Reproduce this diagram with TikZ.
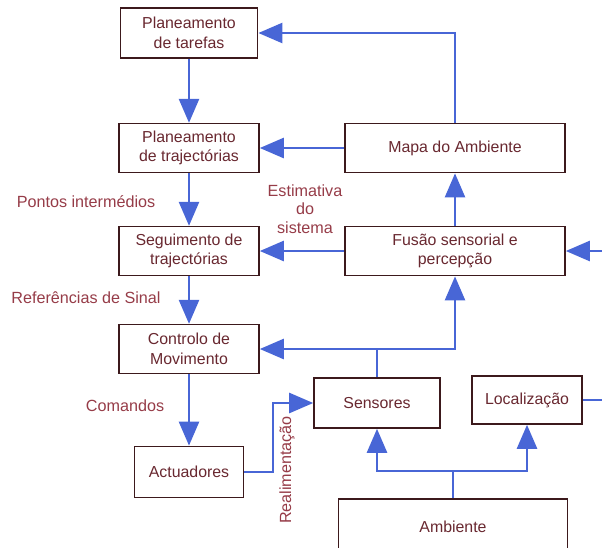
\documentclass[tikz,border=0pt]{standalone}
\usepackage{fontspec}
\setmainfont{Liberation Sans}
\usetikzlibrary{arrows.meta}
\definecolor{boxc}{RGB}{60,25,28}
\definecolor{txtc}{RGB}{105,40,48}
\definecolor{labc}{RGB}{150,60,72}
\definecolor{flowc}{RGB}{72,102,214}
\tikzset{
  blk/.style={rectangle,draw=boxc,line width=1.1pt,fill=white,align=center,text=txtc,
    font=\fontsize{11.3}{14}\selectfont,inner sep=2pt},
  lab/.style={font=\fontsize{11.5}{13}\selectfont,text=labc,align=center},
  % blue signal lines; wire is the same line without a head
  flow/.style={-{Triangle[length=6mm,width=5mm]},line width=1.8pt,flowc},
  wire/.style={line width=1.8pt,flowc},
}
\begin{document}
\begin{tikzpicture}[x=0.025cm,y=-0.025cm,
  col/.style={blk,minimum width=3.5cm,minimum height=1.22cm},
  wide/.style={blk,minimum width=5.5cm,minimum height=1.23cm}]
  \useasboundingbox (0,0) rectangle (602,547);
  \clip (0,0) rectangle (602,547);
  % ---- left column: planning and control ----
  \node[col,minimum width=3.43cm,minimum height=1.25cm] (tar) at (189,33) {Planeamento\\de tarefas};
  \node[col] (traj) at (189,148) {Planeamento\\de trajectórias};
  \node[col] (seg) at (189,251) {Seguimento de\\trajectórias};
  \node[col] (ctrl) at (189,349) {Controlo de\\Movimento};
  \node[blk,minimum width=2.73cm,minimum height=1.28cm] (act) at (189,472) {Actuadores};
  % ---- right column: perception ----
  \node[wide] (mapa) at (455,148) {Mapa do Ambiente};
  \node[wide] (fus) at (455,251) {Fusão sensorial e\\percepção};
  \node[blk,minimum width=3.15cm,minimum height=1.25cm] (sens) at (377,403) {Sensores};
  \node[blk,minimum width=2.75cm,minimum height=1.2cm] (loc) at (527,400) {Localização};
  \node[blk,minimum width=5.73cm,minimum height=1.4cm] (amb) at (453,527) {Ambiente};
  % junctions
  \coordinate (sj) at (377,349);
  \coordinate (fb) at (273,403);
  \coordinate (aj) at (453,471);
  \coordinate (rt) at (606,400);
  % ---- main chain ----
  \draw[flow] (tar) -- (traj);
  \draw[flow] (traj) -- (seg);
  \draw[flow] (seg) -- (ctrl);
  \draw[flow] (ctrl) -- (act);
  % ---- feedback from perception ----
  \draw[flow] (mapa.north) |- (tar.east);
  \draw[flow] (mapa.west) -- (traj.east);
  \draw[flow] (fus) -- (mapa);
  \draw[flow] (fus.west) -- (seg.east);
  \draw[flow] (loc.east) -- (rt) |- (fus.east);
  \draw[wire] (sens.north) -- (sj);
  \draw[flow] (sj) -| (fus.south);
  \draw[flow] (sj) -- (ctrl.east);
  \draw[flow] (act.east) -| (fb) -- (sens.west);
  \draw[wire] (amb.north) -- (aj);
  \draw[flow] (aj) -| (sens.south);
  \draw[flow] (aj) -| (loc.south);
  % ---- signal names ----
  \node[lab] (lpts) at (86,202) {Pontos intermédios};
  \node[lab] (lest) at (305,209) {Estimativa\\do\\sistema};
  \node[lab] (lref) at (86,298) {Referências de Sinal};
  \node[lab] (lcmd) at (125,406) {Comandos};
  \node[lab,rotate=90] (lrea) at (287,470) {Realimentação};
\end{tikzpicture}
\end{document}
